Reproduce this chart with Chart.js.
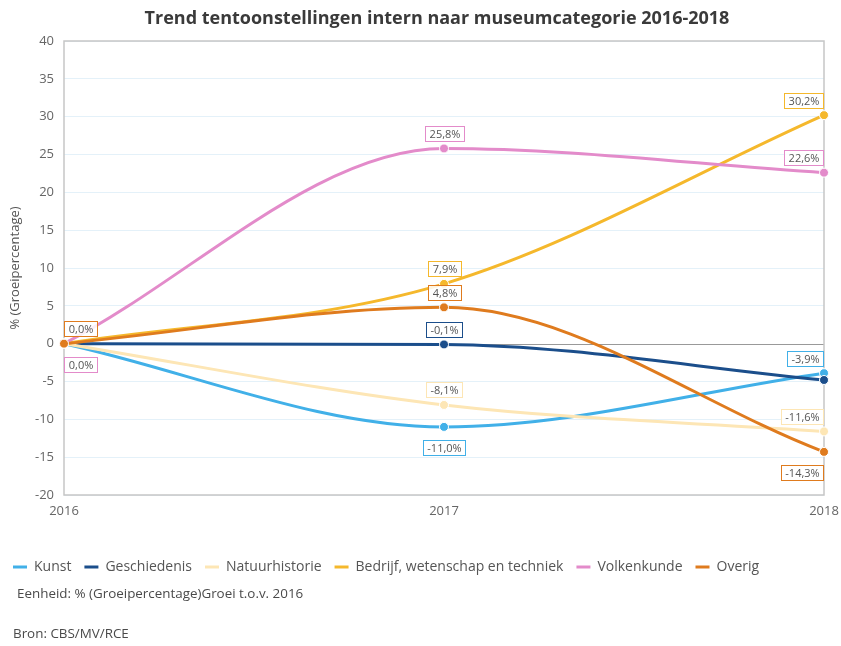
<!DOCTYPE html>
<html>
<head>
<meta charset="utf-8">
<title>Trend tentoonstellingen intern</title>
<script src="https://cdn.jsdelivr.net/npm/chart.js@4.4.1/dist/chart.umd.min.js"></script>
<style>
    html, body { margin: 0; padding: 0; background: #fff; }
    #wrap { position: relative; width: 841px; height: 646px; }
    #wrap canvas { position: absolute; left: 0; top: 0; }
    .title { position: absolute; left: 37px; width: 800px; top: 5px; text-align: center;
             font: bold 18px "Open Sans", sans-serif; color: #3a3a3a; white-space: nowrap; }
    .note { position: absolute; font: 13.4px "Open Sans", sans-serif; color: #4a4a4a; white-space: nowrap; }
</style>
</head>
<body>
<div id="wrap">
    <canvas id="trend" width="841" height="646"></canvas>
    <div class="title">Trend tentoonstellingen intern naar museumcategorie 2016-2018</div>
    <div class="note" style="left:17px; top:584px;">Eenheid: % (Groeipercentage)Groei t.o.v. 2016</div>
    <div class="note" style="left:13px; top:624px;">Bron: CBS/MV/RCE</div>
</div>
<script>
    "use strict";

    // Groei t.o.v. 2016, in procenten
    var years = ["2016", "2017", "2018"];
    var kunst = [0, -11.0, -3.9];
    var geschiedenis = [0, -0.1, -4.8];
    var natuurhistorie = [0, -8.1, -11.6];
    var bedrijf = [0, 7.9, 30.2];
    var volkenkunde = [0, 25.8, 22.6];
    var overig = [0, 4.8, -14.3];
    var yTicks = { min: -20, max: 40, step: 5 };

    Chart.defaults.font.family = '"Open Sans", sans-serif';
    Chart.defaults.color = "#666";

    function pct(v) {
        return v.toFixed(1).replace(".", ",") + "%";
    }

    function series(label, data, color, order, labels) {
        return {
            label: label,
            data: data,
            borderColor: color,
            backgroundColor: color,
            borderWidth: 3,
            pointRadius: 4.5,
            pointBackgroundColor: color,
            pointBorderColor: "#fff",
            pointBorderWidth: 1,
            cubicInterpolationMode: "monotone",
            fill: false,
            order: order,
            valueLabels: labels
        };
    }

    // Plot frame + zero line
    var frame = {
        id: "frame",
        beforeDatasetsDraw: function (chart) {
            var ctx = chart.ctx, a = chart.chartArea;
            var y0 = Math.round(chart.scales.y.getPixelForValue(0)) + 0.5;
            ctx.save();
            ctx.lineWidth = 1;
            ctx.strokeStyle = "#999";
            ctx.beginPath();
            ctx.moveTo(a.left, y0);
            ctx.lineTo(a.right, y0);
            ctx.stroke();
            ctx.strokeStyle = "#c6c6c6";
            ctx.lineWidth = 1.5;
            ctx.strokeRect(Math.round(a.left), Math.round(a.top), Math.round(a.right - a.left), Math.round(a.bottom - a.top));
            ctx.restore();
        }
    };

    // Boxed value labels next to the points
    var valueLabels = {
        id: "valueLabels",
        afterDatasetsDraw: function (chart) {
            var ctx = chart.ctx, a = chart.chartArea;
            ctx.save();
            ctx.font = '11px "Open Sans", sans-serif';
            ctx.textAlign = "center";
            ctx.textBaseline = "middle";
            chart.data.datasets.forEach(function (ds, i) {
                var meta = chart.getDatasetMeta(i);
                (ds.valueLabels || []).forEach(function (pos, j) {
                    if (!pos) return;
                    var pt = meta.data[j];
                    var text = pct(ds.data[j]);
                    var w = Math.round(ctx.measureText(text).width + 8), h = 15;
                    var cx = Math.min(Math.max(pt.x, a.left + w / 2), a.right - 1 - w / 2);
                    var cy = pos === "above" ? pt.y - 15 : pt.y + 21;
                    var x = Math.round(cx - w / 2) + 0.5, y = Math.round(cy - h / 2) + 0.5;
                    ctx.fillStyle = "rgba(255,255,255,0.85)";
                    ctx.fillRect(x, y, w, h);
                    ctx.strokeStyle = ds.borderColor;
                    ctx.lineWidth = 1;
                    ctx.strokeRect(x, y, w, h);
                    ctx.fillStyle = "#555";
                    ctx.fillText(text, x + w / 2, y + h / 2 + 0.5);
                });
            });
            ctx.restore();
        }
    };

    var ctx = document.getElementById("trend").getContext("2d");
    var trendChart = new Chart(ctx, {
        type: "line",
        data: {
            labels: years,
            datasets: [
                series("Kunst", kunst, "#41b0e8", 5, [null, "below", "above"]),
                series("Geschiedenis", geschiedenis, "#1b4e8b", 4, [null, "above", null]),
                series("Natuurhistorie", natuurhistorie, "#fde6b5", 3, [null, "above", "above"]),
                series("Bedrijf, wetenschap en techniek", bedrijf, "#f5b82c", 2, [null, "above", "above"]),
                series("Volkenkunde", volkenkunde, "#e38bca", 1, ["below", "above", "above"]),
                series("Overig", overig, "#df7b1e", 0, ["above", "above", "below"])
            ]
        },
        options: {
            responsive: false,
            animation: false,
            devicePixelRatio: 1,
            layout: { padding: { left: 0, right: 17, top: 41, bottom: 62 } },
            plugins: {
                title: { display: false },
                legend: {
                    position: "bottom",
                    align: "start",
                    labels: {
                        usePointStyle: true,
                        pointStyle: "line",
                        pointStyleWidth: 14,
                        color: "#555",
                        font: { size: 14 },
                        padding: 13,
                        // keep dataset order, draw a short coloured stroke per series
                        generateLabels: function (chart) {
                            return chart.data.datasets.map(function (ds, i) {
                                return {
                                    text: ds.label,
                                    datasetIndex: i,
                                    strokeStyle: ds.borderColor,
                                    fillStyle: ds.borderColor,
                                    fontColor: "#555",
                                    lineWidth: 3,
                                    pointStyle: "line",
                                    hidden: !chart.isDatasetVisible(i)
                                };
                            });
                        }
                    }
                },
                tooltip: { enabled: false }
            },
            scales: {
                x: {
                    offset: false,
                    grid: { display: false, drawTicks: false },
                    border: { display: false },
                    ticks: { font: { size: 13 }, color: "#666", padding: 8, maxRotation: 0 },
                    afterFit: function (scale) {
                        scale.height = 52;
                        scale.paddingLeft = 0;
                        scale.paddingRight = 0;
                    }
                },
                y: {
                    min: yTicks.min,
                    max: yTicks.max,
                    border: { display: false },
                    grid: {
                        drawTicks: false,
                        color: function (c) { return c.tick.value === 0 ? "rgba(0,0,0,0)" : "#e4f1f9"; }
                    },
                    ticks: { stepSize: yTicks.step, font: { size: 13 }, color: "#666", padding: 10 },
                    title: {
                        display: true,
                        text: "% (Groeipercentage)",
                        color: "#555",
                        font: { size: 13 },
                        padding: { top: 7, bottom: 0 }
                    },
                    afterFit: function (scale) { scale.width = 64; }
                }
            }
        },
        plugins: [frame, valueLabels]
    });
</script>
</body>
</html>
